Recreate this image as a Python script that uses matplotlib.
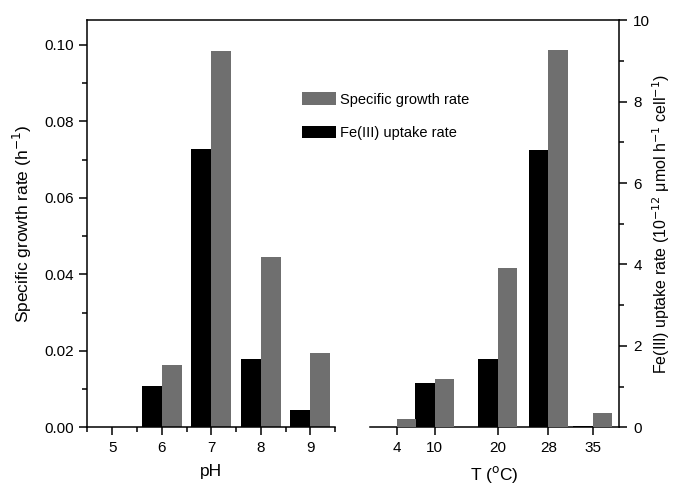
import matplotlib.pyplot as plt

plt.rcParams['font.family'] = ['Liberation Sans', 'DejaVu Sans']

# pH series
ph = [5, 6, 7, 8, 9]
ph_growth = [0.0, 0.0163, 0.0985, 0.0444, 0.0195]
ph_fe = [0.0, 1.01, 6.83, 1.67, 0.43]

# temperature series
temp = [4, 10, 20, 28, 35]
temp_growth = [0.0022, 0.0126, 0.0416, 0.0987, 0.0037]
temp_fe = [0.0, 1.08, 1.67, 6.81, 0.04]

gray = '#6f6f6f'
lw = 1.1

fig = plt.figure(figsize=(6.73, 4.87), dpi=100)

# outer frame (only the continuous top line)
frame = fig.add_axes([0.130, 0.1226, 0.7902, 0.8357])
for s in ['left', 'right', 'bottom']:
    frame.spines[s].set_visible(False)
frame.spines['top'].set_linewidth(lw)
frame.set_xticks([])
frame.set_yticks([])
frame.patch.set_visible(False)

# left panel: pH
ax1 = fig.add_axes([0.130, 0.1226, 0.3678, 0.8357])
ax1.patch.set_visible(False)
ax1b = ax1.twinx()
b1 = ax1b.bar(ph, ph_fe, width=-0.4, align='edge', color='black')
ax1b.set_ylim(0, 10)
ax1b.axis('off')

ax1.spines['right'].set_visible(False)
ax1.spines['top'].set_visible(False)
g1 = ax1.bar(ph, ph_growth, width=0.4, align='edge', color=gray)
ax1.set_xlim(4.5, 9.5)
ax1.set_ylim(0, 0.1064)
ax1.set_xticks(ph)
ax1.set_xticks([4.5, 5.5, 6.5, 7.5, 8.5, 9.5], minor=True)
ax1.set_yticks([0.0, 0.02, 0.04, 0.06, 0.08, 0.10])
ax1.set_yticks([0.01, 0.03, 0.05, 0.07, 0.09], minor=True)
ax1.set_yticklabels(['0.00', '0.02', '0.04', '0.06', '0.08', '0.10'])
ax1.tick_params(which='major', direction='out', length=6, width=lw, labelsize=11, pad=4)
ax1.tick_params(which='minor', direction='out', length=3.5, width=lw)
ax1.set_xlabel('pH', fontsize=12.5, labelpad=6)
ax1.set_ylabel('Specific growth rate (h$^{-1}$)', fontsize=12.5, labelpad=7)
for s in ['left', 'bottom']:
    ax1.spines[s].set_linewidth(lw)

# right panel: temperature
ax2 = fig.add_axes([0.5498, 0.1226, 0.3704, 0.8357])
ax2.patch.set_visible(False)
ax2b = ax2.twinx()
g2 = ax2b.bar(temp, temp_growth, width=3.1, align='edge', color=gray)
ax2b.set_ylim(0, 0.1064)
ax2b.axis('off')

ax2.spines['left'].set_visible(False)
ax2.spines['top'].set_visible(False)
b2 = ax2.bar(temp, temp_fe, width=-3.1, align='edge', color='black')
ax2.set_xlim(-0.2, 39.2)
ax2.set_ylim(0, 10)
ax2.set_xticks(temp)
ax2.yaxis.tick_right()
ax2.yaxis.set_label_position('right')
ax2.set_yticks([0, 2, 4, 6, 8, 10])
ax2.set_yticks([1, 3, 5, 7, 9], minor=True)
ax2.tick_params(which='major', direction='out', length=6, width=lw, labelsize=11, pad=4)
ax2.tick_params(which='minor', direction='out', length=3.5, width=lw)
ax2.set_xlabel('T ($^{\\rm o}$C)', fontsize=12.5, labelpad=6)
ax2.set_ylabel('Fe(III) uptake rate (10$^{-12}$ \u03bcmol h$^{-1}$ cell$^{-1}$)',
               fontsize=11.5, labelpad=0)
for s in ['right', 'bottom']:
    ax2.spines[s].set_linewidth(lw)

fig.legend(handles=[g2, b2], labels=['Specific growth rate', 'Fe(III) uptake rate'],
           loc='upper left', bbox_to_anchor=(295 / 673, 1 - 85 / 487),
           frameon=False, fontsize=10.5, handlelength=2.3, handleheight=0.95,
           handletextpad=0.3, labelspacing=1.3, borderpad=0)

plt.savefig('out.png', dpi=100)
